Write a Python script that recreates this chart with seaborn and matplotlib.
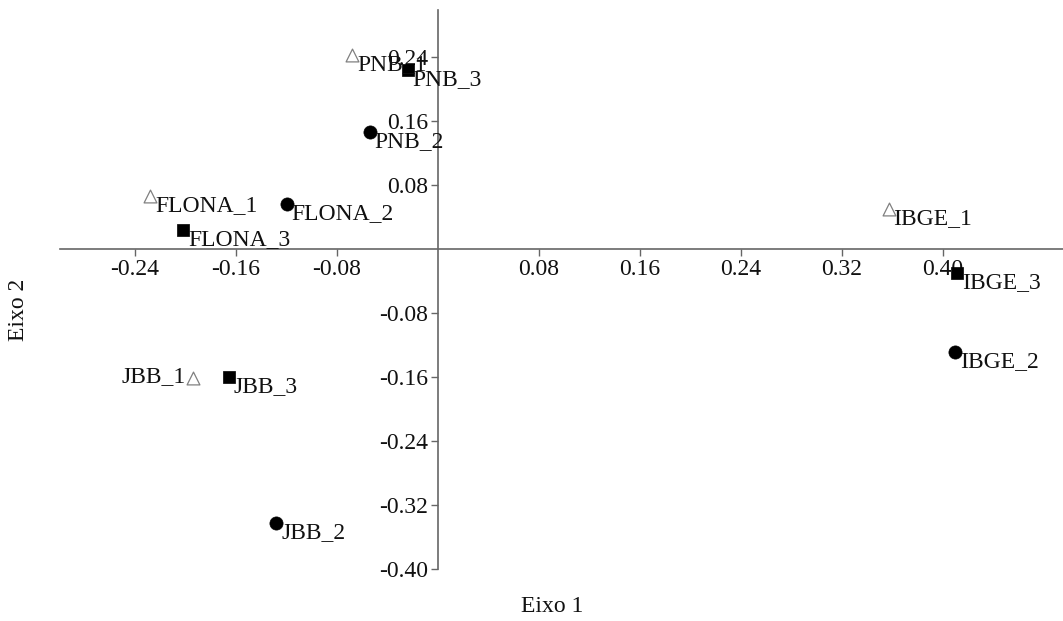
import matplotlib
matplotlib.use("Agg")
import matplotlib.pyplot as plt
import seaborn as sns
import pandas as pd

# Data
labels = ["PNB_1", "PNB_2", "PNB_3",
          "FLONA_1", "FLONA_2", "FLONA_3",
          "IBGE_1", "IBGE_2", "IBGE_3",
          "JBB_1", "JBB_2", "JBB_3"]
eixo1 = [-0.068, -0.054, -0.024,
         -0.228, -0.120, -0.202,
         0.357, 0.410, 0.411,
         -0.194, -0.128, -0.166]
eixo2 = [0.243, 0.146, 0.224,
         0.066, 0.056, 0.024,
         0.050, -0.129, -0.030,
         -0.161, -0.343, -0.160]
replicate = ["1", "2", "3"] * 4

xticks = [-0.24, -0.16, -0.08, 0.08, 0.16, 0.24, 0.32, 0.40]
yticks = [-0.40, -0.32, -0.24, -0.16, -0.08, 0.08, 0.16, 0.24]

df = pd.DataFrame({"label": labels, "Eixo 1": eixo1, "Eixo 2": eixo2, "rep": replicate})

sns.set_theme(style="white")
plt.rcParams["font.family"] = ["Liberation Serif", "DejaVu Serif"]

W, H = 1063, 621
FS = 17
fig = plt.figure(figsize=(W / 100, H / 100), dpi=100)
ax = fig.add_axes([0, 0, 1, 1])

# pixel mapping: x0 at 438px, 1262 px/unit; y0 at 249px, 800 px/unit
ax.set_xlim((0 - 438) / 1262, (W - 438) / 1262)
ax.set_ylim((249 - H) / 800, 249 / 800)

styles = {
    "1": dict(marker="^", facecolor="white", edgecolor="#808080", s=85, linewidth=0.9),
    "2": dict(marker="o", facecolor="black", edgecolor="black", s=90, linewidth=0.5),
    "3": dict(marker="s", facecolor="black", edgecolor="black", s=85, linewidth=0.5),
}
for rep, st in styles.items():
    sub = df[df["rep"] == rep]
    sns.scatterplot(data=sub, x="Eixo 1", y="Eixo 2", ax=ax, legend=False, zorder=3, **st)

for _, r in df.iterrows():
    if r["label"] == "JBB_1":
        ax.annotate(r["label"], (r["Eixo 1"], r["Eixo 2"]), xytext=(-7, 1),
                    textcoords="offset pixels", ha="right", va="center",
                    fontsize=FS, color="#111111", zorder=4)
    else:
        ax.annotate(r["label"], (r["Eixo 1"], r["Eixo 2"]), xytext=(5, 1),
                    textcoords="offset pixels", ha="left", va="top",
                    fontsize=FS, color="#111111", zorder=4)

# axes through origin
for side in ["top", "right"]:
    ax.spines[side].set_visible(False)
ax.spines["left"].set_position(("data", 0))
ax.spines["bottom"].set_position(("data", 0))
ax.spines["left"].set_bounds(-0.40, (249 - 10) / 800)
ax.spines["bottom"].set_bounds((60 - 438) / 1262, (W - 438) / 1262)
for side in ["left", "bottom"]:
    ax.spines[side].set_color("#666666")
    ax.spines[side].set_linewidth(1.2)

ax.set_xticks(xticks)
ax.set_xticklabels([f"{v:.2f}" for v in xticks])
ax.set_yticks(yticks)
ax.set_yticklabels([f"{v:.2f}" for v in yticks])
ax.tick_params(axis="both", direction="out", length=5, width=1, color="#666666",
               labelsize=FS, labelcolor="#111111", pad=2)
ax.tick_params(axis="x", bottom=True)
ax.tick_params(axis="y", left=True)
ax.set_xlabel("")
ax.set_ylabel("")
ax.set_facecolor("white")
fig.patch.set_facecolor("white")

fig.text(552 / W, 1 - 607 / H, "Eixo 1", ha="center", va="center", fontsize=FS, color="#111111")
fig.text(18 / W, 1 - 310 / H, "Eixo 2", ha="center", va="center", rotation=90, fontsize=FS, color="#111111")

fig.savefig("out.png", dpi=100, facecolor="white")
